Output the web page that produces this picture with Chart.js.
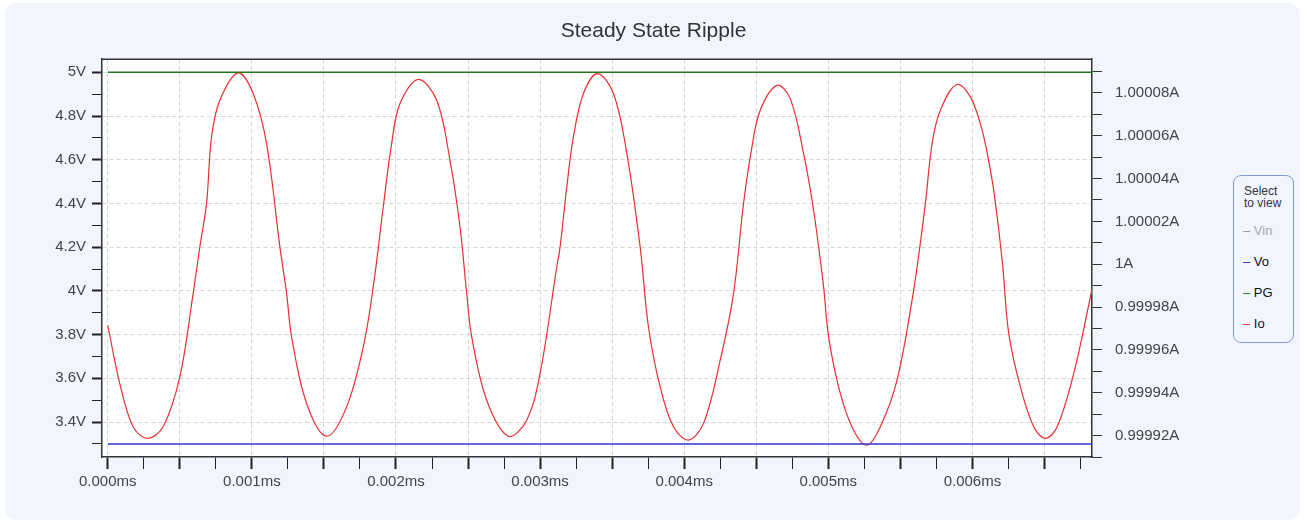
<!DOCTYPE html>
<html>
<head>
<meta charset="utf-8">
<title>Steady State Ripple</title>
<script src="https://cdn.jsdelivr.net/npm/chart.js@4.4.1/dist/chart.umd.min.js"></script>
<style>
  body { margin: 0; background: #ffffff; font-family: "Liberation Sans", Arial, sans-serif; }
  #card {
    position: absolute; left: 5px; top: 3px; width: 1295px; height: 517px;
    background: #f2f5fe; border-radius: 12px;
  }
  #wrap { position: absolute; left: 0; top: 0; width: 1307px; height: 524px; }
  #legend {
    position: absolute; left: 1233px; top: 175px; width: 59px; height: 166px;
    border: 1px solid #7d9cdb; border-radius: 8px; background: #f2f5fe;
    font-size: 12px; color: #333;
  }
  #legend .head { position: absolute; left: 10px; top: 9px; line-height: 12px; }
  #legend .item { position: absolute; left: 9px; font-size: 13px; }
</style>
</head>
<body>
<div id="card"></div>
<div id="wrap"><canvas id="rippleChart"></canvas></div>
<div id="legend"><div class="head">Select<br>to view</div></div>
<script>
// Vo / PG (left axis, volts)
var railTime = [0, 0.00683];
var voVolts = [3.3, 3.3];
var pgVolts = [5, 5];

// Io (right axis, amps)
var ioTime = [0, 0.0000833, 0.0001757, 0.0002757, 0.000384, 0.0005, 0.0005924, 0.0006389, 0.0006854, 0.0007201,
  0.0007778, 0.0009049, 0.001009, 0.001102, 0.0011944, 0.001241, 0.0012757, 0.0013799, 0.0015187, 0.0016576,
  0.0017729, 0.0018424, 0.0019118, 0.00197, 0.0020278, 0.0021549, 0.0022826, 0.0023749, 0.0024444, 0.0024909,
  0.0025256, 0.0026297, 0.0027797, 0.0029076, 0.003, 0.0031159, 0.0031389, 0.0031854, 0.0032312, 0.0033007,
  0.0033979, 0.003509, 0.0036019, 0.0036944, 0.0037521, 0.0038333, 0.0039257, 0.0040299, 0.004134, 0.00425,
  0.0043424, 0.0044118, 0.0044701, 0.0045278, 0.0046438, 0.0047361, 0.0048285, 0.0048979, 0.0049674, 0.0050021,
  0.0050833, 0.0051757, 0.0052688, 0.0053611, 0.0054771, 0.0055924, 0.0056736, 0.0057201, 0.0057778, 0.0058937,
  0.0060087, 0.006125, 0.0062063, 0.0062521, 0.0063333, 0.0064257, 0.0065069, 0.0065882, 0.0067035, 0.0068313];
var ioAmps = [0.9999715, 0.9999443, 0.9999241, 0.9999187, 0.9999241, 0.9999474, 0.9999863, 1.0000081, 1.0000283, 1.0000594,
  1.0000765, 1.0000893, 1.0000797, 1.0000563, 1.0000081, 0.9999863, 0.9999661, 0.999935, 0.9999197, 0.9999334,
  0.9999614, 0.9999894, 1.0000267, 1.0000563, 1.000075, 1.0000863, 1.0000765, 1.0000485, 1.0000174, 0.9999863,
  0.9999661, 0.9999365, 0.9999197, 0.9999272, 0.999949, 0.9999987, 1.0000081, 1.0000361, 1.0000594, 1.0000797,
  1.000089, 1.0000797, 1.0000517, 1.0000081, 0.9999707, 0.9999427, 0.9999241, 0.9999179, 0.9999257, 0.9999552,
  0.9999863, 1.0000283, 1.0000547, 1.0000719, 1.0000835, 1.0000773, 1.0000517, 1.0000252, 0.9999894, 0.9999661,
  0.9999397, 0.9999225, 0.9999155, 0.9999241, 0.9999459, 0.9999879, 1.0000283, 1.0000563, 1.0000719, 1.0000839,
  1.000075, 1.0000439, 1.0000019, 0.9999677, 0.9999427, 0.9999241, 0.9999187, 0.9999241, 0.999949, 0.9999887];

var seriesNames = ["Vin", "Vo", "PG", "Io"];
var seriesColors = ["#999999", "#3535d0", "#1f7a1f", "#e8302f"];
var seriesShown = [false, true, true, true];

function pairs(xs, ys) {
  var out = [];
  for (var i = 0; i < xs.length; i++) out.push({x: xs[i], y: ys[i]});
  return out;
}

// legend box
var legend = document.getElementById('legend');
for (var i = 0; i < seriesNames.length; i++) {
  var d = document.createElement('div');
  d.className = 'item';
  d.style.top = (47 + i * 31) + 'px';
  d.style.color = seriesShown[i] ? '#111' : '#aaa';
  d.innerHTML = '<span style="color:' + seriesColors[i] + '">&ndash;</span> ' + seriesNames[i];
  legend.appendChild(d);
}

var axisFont = {family: '"Liberation Sans", Arial, sans-serif', size: 15};

var plotFrame = {
  id: 'plotFrame',
  beforeDraw: function (chart) {
    var a = chart.chartArea, c = chart.ctx;
    c.save();
    c.fillStyle = '#ffffff';
    c.fillRect(a.left, a.top, a.right - a.left, a.bottom - a.top);
    c.restore();
  },
  afterDraw: function (chart) {
    var a = chart.chartArea, c = chart.ctx;
    c.save();
    c.strokeStyle = '#333';
    c.lineWidth = 1.5;
    c.beginPath();
    c.moveTo(a.left, a.top);
    c.lineTo(a.right, a.top);
    c.stroke();
    c.restore();
  }
};

function isStep(v, step) {
  var r = v / step;
  return Math.abs(r - Math.round(r)) < 1e-6;
}

var ctx = document.getElementById('rippleChart');
var myChart = new Chart(ctx, {
  type: 'line',
  data: {
    datasets: [
      {
        label: 'Vo', data: pairs(railTime, voVolts), yAxisID: 'y',
        borderColor: seriesColors[1], borderWidth: 1.5, pointRadius: 0
      },
      {
        label: 'PG', data: pairs(railTime, pgVolts), yAxisID: 'y',
        borderColor: seriesColors[2], borderWidth: 1.5, pointRadius: 0
      },
      {
        label: 'Io', data: pairs(ioTime, ioAmps), yAxisID: 'y1',
        borderColor: seriesColors[3], borderWidth: 1.2, pointRadius: 0,
        tension: 0.35
      }
    ]
  },
  options: {
    responsive: true,
    maintainAspectRatio: false,
    animation: false,
    layout: {padding: 0},
    plugins: {
      legend: {display: false},
      tooltip: {enabled: false},
      title: {
        display: true, text: 'Steady State Ripple', color: '#333',
        font: {family: '"Liberation Sans", Arial, sans-serif', size: 21, weight: 'normal'},
        padding: {top: 19, bottom: 15}
      }
    },
    scales: {
      x: {
        type: 'linear', min: -0.00004, max: 0.00683,
        afterFit: function (s) { s.height = 67; },
        border: {color: '#333', width: 1.5, dash: [4, 3]},
        grid: {
          color: function (c) { return isStep(c.tick.value, 0.0005) ? '#d4d4d4' : 'rgba(0,0,0,0)'; },
          tickColor: '#222',
          tickWidth: function (c) { return isStep(c.tick.value, 0.0005) ? 2 : 1; },
          tickLength: 12
        },
        ticks: {
          stepSize: 0.00025, autoSkip: false, maxRotation: 0, includeBounds: false,
          color: '#444', font: axisFont, padding: 4,
          callback: function (v) { return isStep(v, 0.001) ? v.toFixed(3) + 'ms' : ''; }
        }
      },
      y: {
        position: 'left', min: 3.24, max: 5.06,
        afterFit: function (s) { s.width = 102; },
        border: {color: '#333', width: 1.5, dash: [4, 3]},
        grid: {
          color: function (c) { return isStep(c.tick.value, 0.2) ? '#d4d4d4' : 'rgba(0,0,0,0)'; },
          tickColor: '#222',
          tickWidth: function (c) { return isStep(c.tick.value, 0.2) ? 2 : 1; },
          tickLength: 10
        },
        ticks: {
          stepSize: 0.1, autoSkip: false, includeBounds: false,
          color: '#444', font: axisFont, padding: 6,
          callback: function (v) { return isStep(v, 0.2) ? parseFloat(v.toFixed(2)) + 'V' : ''; }
        }
      },
      y1: {
        position: 'right', min: 0.99991, max: 1.0000957,
        afterFit: function (s) { s.width = 215; },
        border: {color: '#333', width: 1.5},
        grid: {drawOnChartArea: false, tickColor: '#333', tickWidth: 1, tickLength: 10},
        ticks: {
          stepSize: 0.00001, autoSkip: false, includeBounds: false,
          color: '#444', font: axisFont, padding: 13,
          callback: function (v) { return isStep(v, 0.00002) ? parseFloat(v.toFixed(5)) + 'A' : ''; }
        }
      }
    }
  },
  plugins: [plotFrame]
});
</script>
</body>
</html>
